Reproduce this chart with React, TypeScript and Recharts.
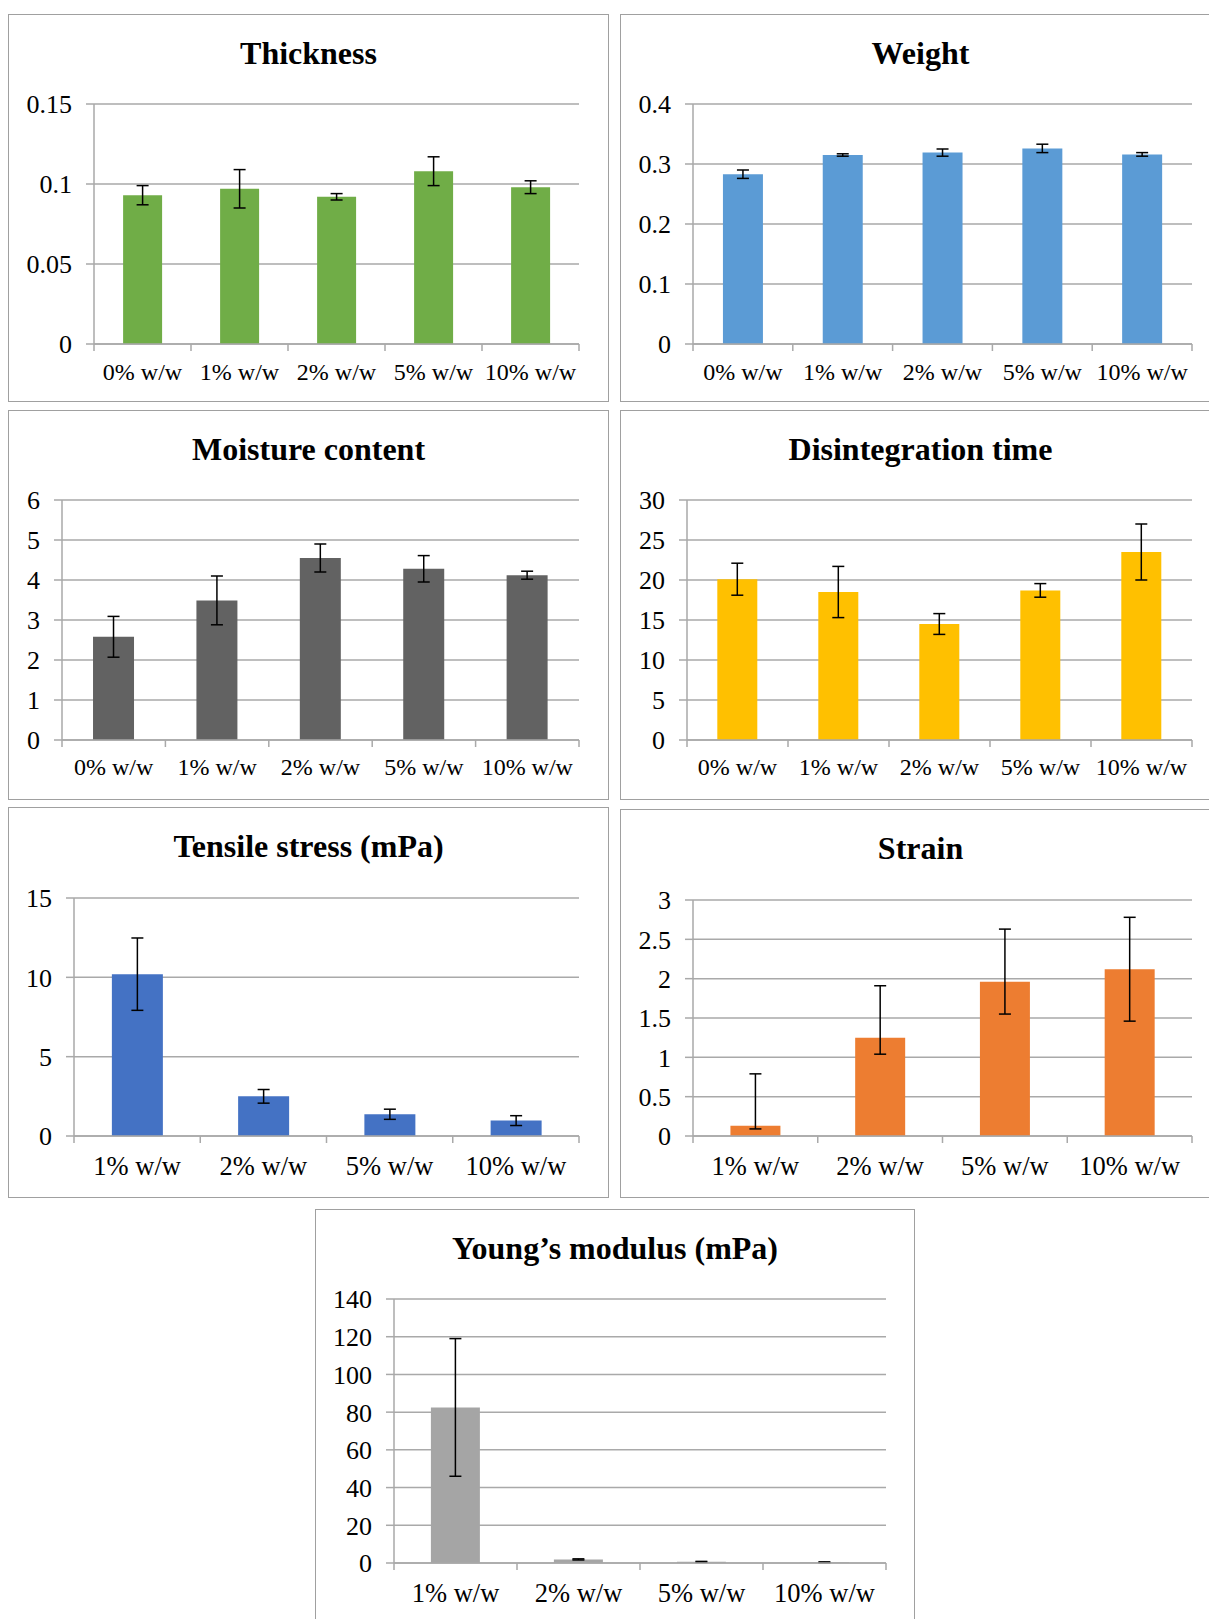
import { BarChart, Bar, XAxis, YAxis, CartesianGrid, ErrorBar } from 'recharts';

const FONT = "'Liberation Serif', 'Times New Roman', serif";
const GRID = '#a9a9a9';

const fiveCats = ['0% w/w', '1% w/w', '2% w/w', '5% w/w', '10% w/w'];
const fourCats = ['1% w/w', '2% w/w', '5% w/w', '10% w/w'];

const thicknessValues = [0.093, 0.097, 0.092, 0.108, 0.098];
const thicknessErrors = [0.006, 0.012, 0.002, 0.009, 0.004];
const thicknessTicks = [0, 0.05, 0.1, 0.15];

const weightValues = [0.283, 0.315, 0.319, 0.326, 0.316];
const weightErrors = [0.007, 0.002, 0.006, 0.007, 0.003];
const weightTicks = [0, 0.1, 0.2, 0.3, 0.4];

const moistureValues = [2.58, 3.49, 4.55, 4.28, 4.12];
const moistureErrors = [0.51, 0.61, 0.35, 0.33, 0.1];
const moistureTicks = [0, 1, 2, 3, 4, 5, 6];

const disintegrationValues = [20.1, 18.5, 14.5, 18.7, 23.5];
const disintegrationErrors = [2.0, 3.2, 1.3, 0.85, 3.5];
const disintegrationTicks = [0, 5, 10, 15, 20, 25, 30];

const tensileValues = [10.2, 2.5, 1.37, 0.97];
const tensileErrors = [2.28, 0.43, 0.32, 0.31];
const tensileTicks = [0, 5, 10, 15];

const strainValues = [0.13, 1.25, 1.96, 2.12];
const strainErrLow = [0.04, 0.21, 0.41, 0.66];
const strainErrHigh = [0.66, 0.66, 0.67, 0.66];
const strainTicks = [0, 0.5, 1, 1.5, 2, 2.5, 3];

const youngValues = [82.5, 1.9, 0.6, 0.4];
const youngErrors = [36.5, 0.3, 0.25, 0.2];
const youngTicks = [0, 20, 40, 60, 80, 100, 120, 140];

interface PanelProps {
  title: string;
  left: number;
  top: number;
  width: number;
  height: number;
  plotLeft: number;
  plotTop: number;
  plotRight: number;
  plotBottom: number;
  categories: string[];
  values: number[];
  errors: (number | number[])[];
  ticks: number[];
  color: string;
  tickFont: number;
  catFont: number;
  labelDy: number;
}

const Panel = (p: PanelProps) => {
  const data = p.categories.map((name, i) => ({ name, value: p.values[i], err: p.errors[i] }));
  const band = (p.width - p.plotLeft - p.plotRight) / p.categories.length;
  const n = p.categories.length;

  const renderCatTick = (props: any) => {
    const { x, y, payload, index } = props;
    return (
      <g>
        <line x1={x - band / 2} y1={y} x2={x - band / 2} y2={y + 7} stroke={GRID} strokeWidth={1.5} />
        {index === n - 1 && (
          <line x1={x + band / 2} y1={y} x2={x + band / 2} y2={y + 7} stroke={GRID} strokeWidth={1.5} />
        )}
        <text x={x} y={y + p.labelDy} textAnchor="middle" fontFamily={FONT} fontSize={p.catFont} fill="#000">
          {payload.value}
        </text>
      </g>
    );
  };

  const renderValueTick = (props: any) => {
    const { x, y, payload } = props;
    return (
      <text
        x={x}
        y={y}
        dy="0.36em"
        textAnchor="end"
        fontSize={p.tickFont}
        fill="#000"
        style={{ fontFamily: FONT }}
      >
        {String(payload.value)}
      </text>
    );
  };

  return (
    <div style={{ position: 'absolute', left: p.left, top: p.top, width: p.width, height: p.height }}>
      <div
        style={{
          position: 'absolute',
          inset: 0,
          border: '1.5px solid #a0a0a0',
          boxSizing: 'border-box',
          background: 'white',
        }}
      />
      <div
        style={{
          position: 'absolute',
          left: 0,
          width: p.width,
          top: 23,
          textAlign: 'center',
          fontFamily: FONT,
          fontWeight: 'bold',
          fontSize: 32,
          lineHeight: '32px',
          color: '#000',
        }}
      >
        {p.title}
      </div>
      <div style={{ position: 'absolute', left: 0, top: 0 }}>
        <BarChart
          width={p.width}
          height={p.height}
          data={data}
          margin={{ top: p.plotTop, right: p.plotRight, left: 0, bottom: 0 }}
          barCategoryGap="30%"
        >
          <CartesianGrid vertical={false} stroke={GRID} strokeWidth={1.5} />
          <XAxis
            dataKey="name"
            height={p.height - p.plotBottom}
            axisLine={{ stroke: GRID, strokeWidth: 1.5 }}
            tickLine={false}
            tickSize={0}
            tickMargin={0}
            interval={0}
            tick={renderCatTick}
          />
          <YAxis
            width={p.plotLeft}
            domain={[0, p.ticks[p.ticks.length - 1]]}
            ticks={p.ticks}
            interval={0}
            allowDataOverflow
            axisLine={{ stroke: GRID, strokeWidth: 1.5 }}
            tickLine={{ stroke: GRID, strokeWidth: 1.5 }}
            tickSize={8}
            tickMargin={14}
            tick={renderValueTick}
          />
          <Bar dataKey="value" fill={p.color} isAnimationActive={false}>
            <ErrorBar dataKey="err" width={6} stroke="#000" strokeWidth={1.5} direction="y" />
          </Bar>
        </BarChart>
      </div>
    </div>
  );
};

const App = () => {
  return (
    <div
      style={{
        position: 'absolute',
        left: 0,
        top: 0,
        width: 1209,
        height: 1619,
        overflow: 'hidden',
        background: 'white',
      }}
    >
      <Panel
        title="Thickness"
        left={8} top={14} width={601} height={388}
        plotLeft={86} plotTop={90} plotRight={30} plotBottom={330}
        categories={fiveCats} values={thicknessValues} errors={thicknessErrors}
        ticks={thicknessTicks} color="#70AD47" tickFont={26} catFont={24} labelDy={36}
      />
      <Panel
        title="Weight"
        left={620} top={14} width={601} height={388}
        plotLeft={73} plotTop={90} plotRight={29} plotBottom={330}
        categories={fiveCats} values={weightValues} errors={weightErrors}
        ticks={weightTicks} color="#5B9BD5" tickFont={26} catFont={24} labelDy={36}
      />
      <Panel
        title="Moisture content"
        left={8} top={410} width={601} height={390}
        plotLeft={54} plotTop={90} plotRight={30} plotBottom={330}
        categories={fiveCats} values={moistureValues} errors={moistureErrors}
        ticks={moistureTicks} color="#626262" tickFont={26} catFont={24} labelDy={35}
      />
      <Panel
        title="Disintegration time"
        left={620} top={410} width={601} height={390}
        plotLeft={67} plotTop={90} plotRight={29} plotBottom={330}
        categories={fiveCats} values={disintegrationValues} errors={disintegrationErrors}
        ticks={disintegrationTicks} color="#FFC000" tickFont={26} catFont={24} labelDy={35}
      />
      <Panel
        title="Tensile stress (mPa)"
        left={8} top={807} width={601} height={391}
        plotLeft={66} plotTop={91} plotRight={30} plotBottom={329}
        categories={fourCats} values={tensileValues} errors={tensileErrors}
        ticks={tensileTicks} color="#4472C4" tickFont={26} catFont={26.5} labelDy={39}
      />
      <Panel
        title="Strain"
        left={620} top={809} width={601} height={389}
        plotLeft={73} plotTop={91} plotRight={29} plotBottom={327}
        categories={fourCats}
        values={strainValues}
        errors={strainValues.map((_, i) => [strainErrLow[i], strainErrHigh[i]])}
        ticks={strainTicks} color="#ED7D31" tickFont={26} catFont={26.5} labelDy={39}
      />
      <Panel
        title="Young’s modulus (mPa)"
        left={315} top={1209} width={600} height={420}
        plotLeft={79} plotTop={90} plotRight={29} plotBottom={354}
        categories={fourCats} values={youngValues} errors={youngErrors}
        ticks={youngTicks} color="#A5A5A5" tickFont={26} catFont={26.5} labelDy={39}
      />
    </div>
  );
};

export default App;
